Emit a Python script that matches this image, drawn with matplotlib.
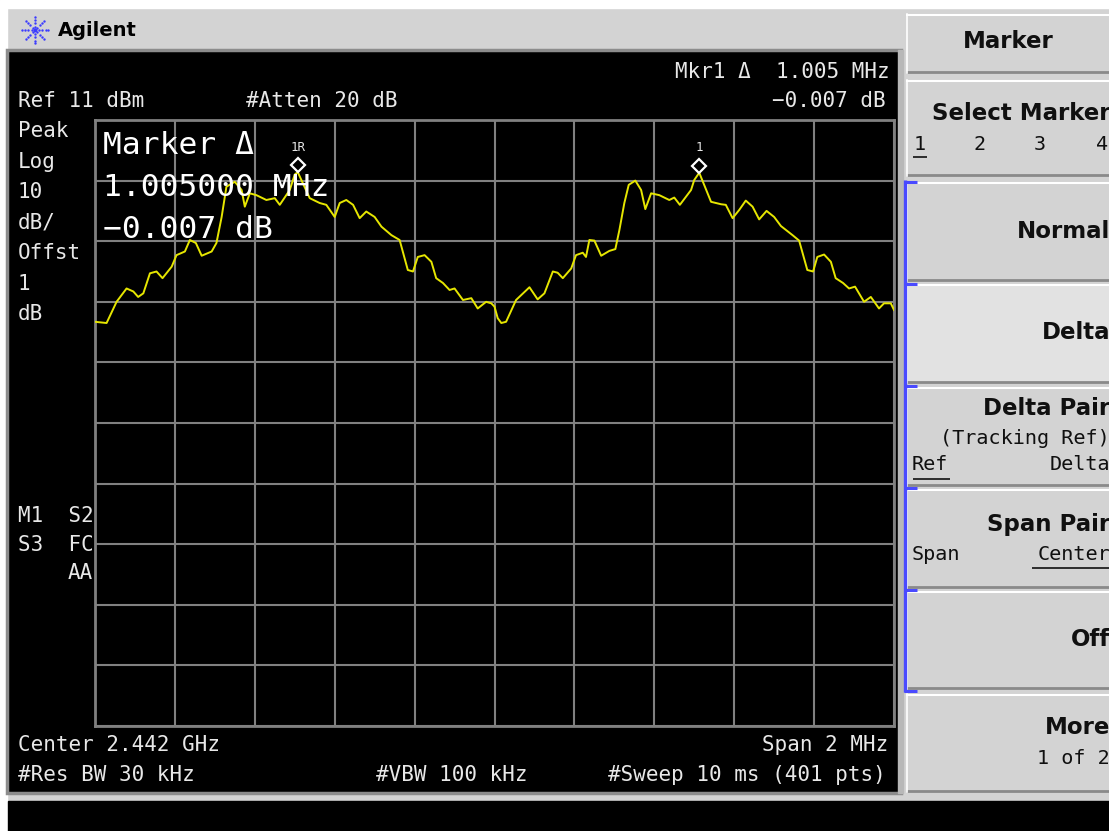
import numpy as np
import matplotlib
matplotlib.use("Agg")
import matplotlib.pyplot as plt
from matplotlib.patches import Rectangle
from matplotlib.transforms import offset_copy

W, H = 1109, 831

# sweep settings
center_ghz = 2.442
span_mhz = 2.0
ref_dbm = 11
db_per_div = 10
offset_db = 1
atten_db = 20
rbw_khz = 30
vbw_khz = 100
sweep_ms = 10
sweep_pts = 401

# peak-hold trace: offset from center (MHz) and level (dBm)
trace_mhz = [
    -1.000, -0.971, -0.946, -0.921, -0.904, -0.892, -0.879, -0.8625, -0.846, -0.831,
    -0.808, -0.796, -0.775, -0.7625, -0.7475, -0.733, -0.708, -0.696, -0.683, -0.671,
    -0.650, -0.633, -0.625, -0.6125, -0.596, -0.571, -0.550, -0.5375, -0.5125, -0.500,
    -0.4925, -0.4625, -0.4375, -0.421, -0.400, -0.3875, -0.371, -0.354, -0.3375, -0.321,
    -0.300, -0.283, -0.258, -0.2375, -0.217, -0.204, -0.192, -0.175, -0.158, -0.146,
    -0.129, -0.1125, -0.100, -0.079, -0.058, -0.042, -0.021, -0.008, 0.000, 0.008,
    0.017, 0.029, 0.054, 0.0875, 0.108, 0.125, 0.146, 0.158, 0.171, 0.192,
    0.204, 0.221, 0.229, 0.2375, 0.250, 0.267, 0.2875, 0.3025, 0.3125, 0.325,
    0.336, 0.3525, 0.367, 0.3775, 0.392, 0.4125, 0.4375, 0.450, 0.464, 0.492,
    0.500, 0.5125, 0.542, 0.567, 0.579, 0.596, 0.6125, 0.629, 0.646, 0.6625,
    0.681, 0.700, 0.717, 0.746, 0.7625, 0.783, 0.7975, 0.808, 0.825, 0.842,
    0.854, 0.8725, 0.8875, 0.9025, 0.925, 0.942, 0.9625, 0.975, 0.992, 1.000,
]
trace_dbm = [
    -22.3, -22.5, -19.0, -16.8, -17.3, -18.2, -17.6, -14.3, -14.0, -15.1,
    -13.2, -11.3, -10.7, -8.8, -9.3, -11.4, -10.7, -9.3, -5.0, 0.0,
    0.8, -0.55, -3.3, -1.1, -1.4, -2.2, -1.9, -3.0, -0.55, 2.0,
    2.4, -1.9, -2.7, -3.0, -5.0, -2.7, -2.2, -3.0, -5.2, -4.1,
    -5.0, -6.6, -8.0, -8.8, -13.75, -14.0, -11.6, -11.3, -12.4, -15.1,
    -15.9, -17.05, -16.8, -18.7, -18.4, -20.1, -19.0, -19.25, -19.8, -21.7,
    -22.5, -22.3, -18.7, -16.6, -18.6, -17.6, -14.0, -14.2, -15.1, -13.5,
    -11.3, -10.9, -11.6, -8.8, -8.9, -11.4, -10.6, -10.3, -7.2, -2.7,
    0.3, 1.0, -0.55, -3.7, -1.1, -1.4, -2.2, -1.8, -3.0, -0.55,
    1.1, 2.3, -2.5, -2.9, -3.0, -5.2, -3.85, -2.3, -3.3, -5.4,
    -4.0, -5.0, -6.5, -8.0, -8.9, -13.75, -14.0, -11.6, -11.2, -12.4,
    -15.1, -15.9, -16.8, -16.5, -19.0, -18.2, -20.1, -19.25, -19.25, -20.35,
]

mkr_ref_mhz = -0.4925
mkr_delta_mhz = 1.005
mkr_delta_db = -0.007

softkeys = ["Normal", "Delta", "Delta Pair", "Span Pair", "Off", "More"]
softkey_rows = [(182, 281), (284, 383), (387, 486), (489, 588), (591, 689), (694, 792)]

PANEL = "#d3d3d3"
SCREEN_TXT = "#e8e8e8"
GRID = "#808080"
TRACE = "#e6e600"
MONO = "DejaVu Sans Mono"


def px_text(x, y, s, **kw):
    kw.setdefault("va", "center")
    return fig.text(x / W, 1 - y / H, s, **kw)


def rect(x0, y0, x1, y1, **kw):
    bg.add_patch(Rectangle((x0, y0), x1 - x0, y1 - y0, **kw))


def hline(x0, x1, y, **kw):
    bg.plot([x0, x1], [y, y], solid_capstyle="butt", **kw)


fig = plt.figure(figsize=(W / 100, H / 100), dpi=100, facecolor=PANEL)

# pixel canvas for the instrument frame
bg = fig.add_axes([0, 0, 1, 1])
bg.set_xlim(0, W)
bg.set_ylim(H, 0)
bg.axis("off")

rect(0, 0, W, 8, color="white")
rect(0, 0, 7, H, color="white")
rect(7, 50, 901, 793, facecolor="black", edgecolor="#8c8c8c", lw=2.5)
rect(8, 801, W + 2, H + 2, color="black")
rect(898, 50, 903, 793, color="#b8b8b8")

# Agilent logo
cx, cy = 35, 30
for ang in np.arange(0, 360, 45):
    r = np.array([3.5, 7, 10.5, 13])
    bg.scatter(cx + r * np.cos(np.radians(ang)), cy + r * np.sin(np.radians(ang)),
               s=3, color="#3b3bff", lw=0)
bg.scatter([cx], [cy], s=8, color="#3b3bff", lw=0)
px_text(58, 30, "Agilent", fontsize=14, fontweight="bold", color="black",
        family="DejaVu Sans")

# softkey panel
def button(y0, y1, fill=PANEL):
    rect(906, y0, W + 2, y1, facecolor=fill, edgecolor="none")
    hline(906, W, y0 + 1, color="white", lw=1.5)
    hline(906, W, y1 - 1, color="#8a8a8a", lw=2)
    bg.plot([907, 907], [y0, y1], color="white", lw=1.2)


button(14, 73)
button(80, 176)
for (y0, y1), name in zip(softkey_rows, softkeys):
    button(y0, y1, "#e2e2e2" if name == "Delta" else PANEL)

bg.plot([904.5, 904.5], [180, 692], color="#4a4aff", lw=2.4, solid_capstyle="butt")
for yy in [181.5, 283.5, 386, 488, 590, 691]:
    hline(903.5, 917, yy, color="#4a4aff", lw=2.2)

KEY = dict(family="DejaVu Sans", color="#101010", fontweight="bold", fontsize=16.5)
SUB = dict(family=MONO, color="#101010", fontsize=14.5)
px_text(1008, 42, "Marker", ha="center", **KEY)
px_text(1110, 114, "Select Marker", ha="right", **KEY)
for x, n in zip([920, 980, 1040, 1102], ["1", "2", "3", "4"]):
    px_text(x, 145, n, ha="center", **SUB)
hline(913, 927, 157, color="#101010", lw=1.2)
px_text(1110, 231, "Normal", ha="right", **KEY)
px_text(1110, 333, "Delta", ha="right", **KEY)
px_text(1110, 409, "Delta Pair", ha="right", **KEY)
px_text(1110, 438, "(Tracking Ref)", ha="right", **SUB)
px_text(912, 465, "Ref", ha="left", **SUB)
hline(913, 950, 479, color="#101010", lw=1.2)
px_text(1110, 465, "Delta", ha="right", **SUB)
px_text(1110, 524, "Span Pair", ha="right", **KEY)
px_text(912, 554, "Span", ha="left", **SUB)
px_text(1110, 554, "Center", ha="right", **SUB)
hline(1032, W, 568, color="#101010", lw=1.2)
px_text(1110, 640, "Off", ha="right", **KEY)
px_text(1110, 728, "More", ha="right", **KEY)
px_text(1110, 758, "1 of 2", ha="right", **SUB)

# graticule: 10 x 10 divisions
gl, gr, gt, gb = 95, 894, 120, 726
ax = fig.add_axes([gl / W, 1 - gb / H, (gr - gl) / W, (gb - gt) / H])
ax.set_facecolor("black")
ax.set_xlim(-span_mhz / 2, span_mhz / 2)
ax.set_ylim(ref_dbm - 10 * db_per_div, ref_dbm)
ax.set_xticks(np.linspace(-span_mhz / 2, span_mhz / 2, 11))
ax.set_yticks(np.linspace(ref_dbm - 10 * db_per_div, ref_dbm, 11))
ax.grid(True, color=GRID, lw=1.5)
ax.tick_params(length=0, labelbottom=False, labelleft=False)
for s in ax.spines.values():
    s.set_color(GRID)
    s.set_linewidth(2)

ax.plot(trace_mhz, trace_dbm, color=TRACE, lw=1.4, zorder=3)

# markers sit on the trace, diamond drawn just above the point
mkr_f = [mkr_ref_mhz, mkr_ref_mhz + mkr_delta_mhz]
mkr_lvl = np.interp(mkr_f, trace_mhz, trace_dbm)
lift = offset_copy(ax.transData, fig=fig, x=0, y=7, units="dots")
ax.plot(mkr_f, mkr_lvl, ls="none", marker="D", ms=7.5, mfc="black", mec="white",
        mew=1.6, transform=lift, zorder=4, clip_on=False)
for f, lvl, lab in zip(mkr_f, mkr_lvl, ["1R", "1"]):
    ax.annotate(lab, (f, lvl), xytext=(0, 25), textcoords="offset pixels",
                ha="center", va="center", fontsize=9, color=SCREEN_TXT,
                family=MONO, annotation_clip=False)

# screen annotations
SCR = dict(family=MONO, color=SCREEN_TXT, fontsize=15)
px_text(890, 72, f"Mkr1 \u0394  {mkr_delta_mhz:.3f} MHz", ha="right", **SCR)
px_text(886, 101, f"{mkr_delta_db:.3f} dB".replace("-", "\u2212"), ha="right", **SCR)
px_text(18, 101, f"Ref {ref_dbm} dBm", ha="left", **SCR)
px_text(246, 101, f"#Atten {atten_db} dB", ha="left", **SCR)
for i, s in enumerate(["Peak", "Log", f"{db_per_div}", "dB/", "Offst", f"{offset_db}", "dB"]):
    px_text(18, 131 + i * 30.5, s, ha="left", **SCR)
px_text(18, 516, "M1  S2", ha="left", **SCR)
px_text(18, 545, "S3  FC", ha="left", **SCR)
px_text(93, 573, "AA", ha="right", **SCR)
px_text(18, 745, f"Center {center_ghz:.3f} GHz", ha="left", **SCR)
px_text(888, 745, f"Span {span_mhz:g} MHz", ha="right", **SCR)
px_text(18, 775, f"#Res BW {rbw_khz} kHz", ha="left", **SCR)
px_text(376, 775, f"#VBW {vbw_khz} kHz", ha="left", **SCR)
px_text(886, 775, f"#Sweep {sweep_ms} ms ({sweep_pts} pts)", ha="right", **SCR)

BIG = dict(family=MONO, color="white", fontsize=22.5, ha="left", zorder=10)
px_text(103, 145, "Marker \u0394", **BIG)
px_text(103, 187, f"{mkr_delta_mhz:.6f} MHz", **BIG)
px_text(103, 230, f"{mkr_delta_db:.3f} dB".replace("-", "\u2212"), **BIG)

fig.savefig("out.png", dpi=100, facecolor=fig.get_facecolor())
